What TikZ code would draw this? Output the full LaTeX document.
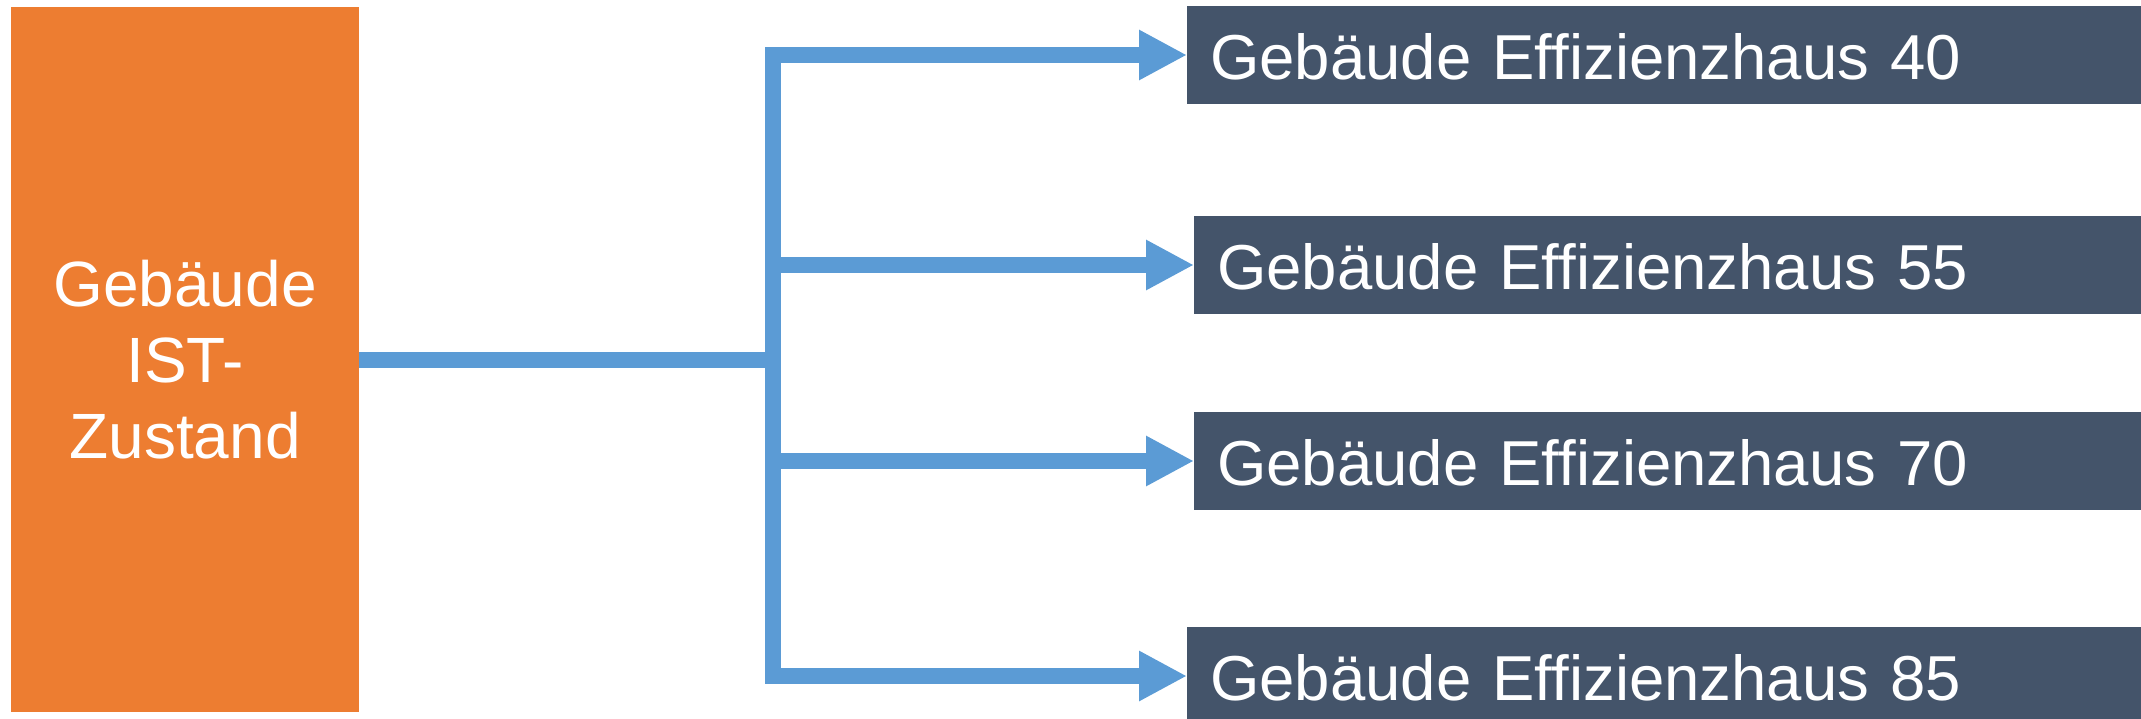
\documentclass[tikz,border=0pt]{standalone}
\usepackage{fontspec}
\setmainfont{Liberation Sans}
\usetikzlibrary{arrows.meta}

\definecolor{istorange}{HTML}{ED7D31}
\definecolor{linkblue}{HTML}{5B9BD5}
\definecolor{slatebox}{HTML}{44546A}

\tikzset{
  startbox/.style={fill=istorange, draw=none, text=white, align=center,
    minimum width=348pt, minimum height=705pt, inner sep=0pt,
    font=\fontsize{64}{76}\selectfont},
  levelbox/.style={fill=slatebox, draw=none, text=white, anchor=west,
    minimum height=98pt, inner xsep=23pt, inner ysep=0pt, align=left,
    text height=49pt, text depth=0pt,
    font=\fontsize{63.5}{76}\selectfont},
  link/.style={draw=linkblue, line width=16pt, line join=miter},
  linktip/.style={-{Triangle[length=48pt,width=47pt]}},
}

\begin{document}
\begin{tikzpicture}[x=1pt,y=-1pt]
  \useasboundingbox (0,0) rectangle (2141,718);
  \clip (0,0) rectangle (2141,718);

  % current state of the building
  \node[startbox] (ist) at (185,359.5) {Gebäude\\IST-\\Zustand};

  % target efficiency levels
  \node[levelbox, text width=908pt] (e40) at (1187,55)  {Gebäude Effizienzhaus 40};
  \node[levelbox, text width=901pt] (e55) at (1194,265) {Gebäude Effizienzhaus 55};
  \node[levelbox, text width=901pt] (e70) at (1194,461) {Gebäude Effizienzhaus 70};
  \node[levelbox, text width=908pt] (e85) at (1187,676) {Gebäude Effizienzhaus 85};

  % distribution bar
  \coordinate (bt) at (773,55);
  \coordinate (bb) at (773,676);

  \draw[link] (ist.east) -- (ist.east -| bt);
  \draw[link, {Triangle[length=48pt,width=47pt]}-{Triangle[length=48pt,width=47pt]}]
    (e40.west) -- (bt) -- (bb) -- (e85.west);
  \draw[link, linktip] (bt |- e55.west) -- (e55.west);
  \draw[link, linktip] (bt |- e70.west) -- (e70.west);
\end{tikzpicture}
\end{document}
